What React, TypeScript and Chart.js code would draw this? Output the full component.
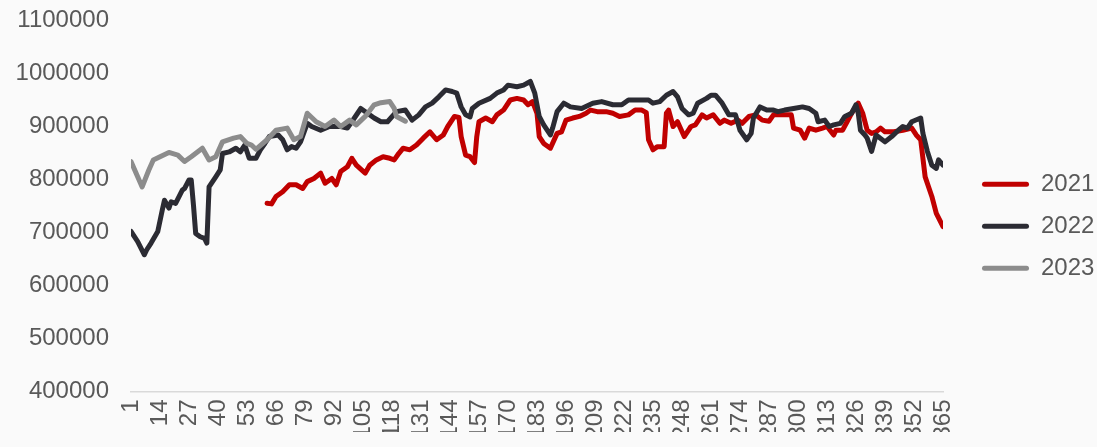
import React, { useEffect, useRef } from "react";
import { Chart, registerables } from "chart.js";

Chart.register(...registerables);

const seriesNames = ["2021", "2022", "2023"];
const seriesColors = ["#C00000", "#2B2B33", "#8C8C8C"];

const days2021 = [62,64,66,69,72,75,78,80,83,86,88,91,93,95,98,100,102,106,108,111,114,117,119,121,123,126,129,132,135,138,141,143,146,148,149,151,153,155,156,157,160,163,165,168,171,174,177,179,181,183,184,186,189,192,194,196,199,202,205,207,210,214,217,220,224,227,230,232,233,235,237,240,241,242,244,246,249,252,254,257,259,262,265,267,270,273,275,278,281,284,287,289,293,297,298,301,303,305,308,311,313,316,317,320,322,324,327,329,331,333,335,337,339,343,347,351,353,355,357,360,362,365];
const values2021 = [755000,754000,768000,777000,790000,790000,783000,796000,802000,812000,793000,802000,790000,815000,824000,840000,827000,812000,827000,837000,843000,840000,837000,849000,859000,856000,865000,878000,890000,875000,884000,900000,919000,917000,881000,846000,843000,832000,881000,909000,916000,909000,922000,931000,950000,953000,950000,941000,947000,925000,881000,868000,859000,887000,890000,912000,916000,919000,925000,931000,928000,928000,925000,919000,922000,931000,931000,926000,875000,856000,862000,862000,925000,931000,900000,909000,881000,900000,903000,922000,916000,922000,906000,912000,906000,912000,906000,919000,922000,912000,910000,922000,922000,922000,897000,893000,878000,897000,893000,897000,900000,884000,893000,893000,909000,925000,944000,925000,893000,887000,890000,897000,890000,890000,893000,897000,884000,875000,805000,768000,736000,711000];

const days2022 = [1,4,7,8,10,13,15,16,18,19,21,24,25,27,28,29,30,32,34,35,36,39,41,42,45,48,50,52,54,57,59,61,63,67,69,71,73,75,77,80,82,86,90,95,98,100,104,107,110,113,116,120,124,127,130,133,136,139,142,145,147,149,151,153,154,157,162,165,168,170,174,177,180,182,184,186,189,190,192,195,198,203,208,212,217,221,224,229,233,235,238,241,244,246,248,251,253,255,259,261,263,266,269,272,274,277,279,280,283,286,289,291,294,298,302,305,308,309,312,314,316,319,321,324,326,327,328,330,331,333,335,339,342,345,347,349,351,355,356,358,360,362,363,365];
const values2022 = [702000,683000,658000,667000,680000,702000,742000,761000,746000,758000,755000,780000,783000,799000,799000,752000,698000,692000,689000,680000,786000,805000,818000,849000,852000,859000,852000,865000,840000,840000,856000,868000,881000,884000,875000,856000,862000,859000,871000,906000,900000,893000,900000,900000,897000,909000,934000,925000,916000,909000,909000,928000,931000,912000,922000,937000,944000,956000,969000,966000,963000,937000,922000,918000,934000,944000,953000,963000,969000,978000,975000,978000,985000,963000,919000,903000,884000,897000,928000,944000,937000,934000,944000,947000,941000,941000,950000,950000,950000,944000,947000,959000,966000,956000,934000,922000,925000,944000,953000,959000,959000,944000,922000,922000,893000,875000,887000,916000,937000,931000,931000,928000,931000,934000,937000,934000,925000,909000,912000,900000,903000,906000,919000,925000,941000,925000,893000,884000,878000,853000,884000,871000,881000,893000,900000,897000,909000,916000,887000,853000,827000,821000,837000,827000];

const days2023 = [1,6,9,11,14,18,22,25,28,33,36,39,42,47,50,53,55,57,62,66,71,74,77,80,84,88,92,95,99,102,106,110,113,117,119,120,124];
const values2023 = [834000,786000,818000,837000,843000,851000,846000,834000,843000,859000,837000,843000,871000,878000,881000,868000,865000,857000,875000,893000,897000,875000,881000,925000,909000,900000,912000,900000,912000,903000,919000,941000,945000,947000,934000,919000,910000];

const xTickDays = [1,14,27,40,53,66,79,92,105,118,131,144,157,170,183,196,209,222,235,248,261,274,287,300,313,326,339,352,365];
const yTickValues = [400000,500000,600000,700000,800000,900000,1000000,1100000];

const FONT = "'Liberation Sans', Arial, Helvetica, sans-serif";
const TEXT = "#595959";

export default function App() {
  const ref = useRef<HTMLCanvasElement | null>(null);

  useEffect(() => {
    if (!ref.current) return;
    const pts = (d: number[], v: number[]) => d.map((x, i) => ({ x, y: v[i] }));
    const allDays = [days2021, days2022, days2023];
    const allValues = [values2021, values2022, values2023];
    const chart = new Chart(ref.current, {
      type: "line",
      data: {
        datasets: seriesNames.map((name, i) => ({
          label: name,
          data: pts(allDays[i], allValues[i]),
          borderColor: seriesColors[i],
          backgroundColor: seriesColors[i],
          borderWidth: 5,
          pointRadius: 0,
          tension: 0,
          borderJoinStyle: "round" as const,
          borderCapStyle: "round" as const,
          order: 3 - i,
        })),
      },
      options: {
        animation: false,
        responsive: false,
        devicePixelRatio: 1,
        layout: { padding: { top: 20.5, bottom: 15, left: 0, right: 0 } },
        scales: {
          x: {
            type: "linear",
            min: 1,
            max: 365,
            afterBuildTicks: (s: any) => {
              s.ticks = xTickDays.map((v) => ({ value: v }));
            },
            afterFit: (s: any) => {
              s.height = 40.5;
            },
            ticks: {
              autoSkip: false,
              minRotation: 90,
              maxRotation: 90,
              padding: 8,
              color: TEXT,
              font: { family: FONT, size: 24 },
              callback: (v: any) => String(v),
            },
            grid: { display: false, drawTicks: false },
            border: { display: true, color: "#D9D9D9", width: 1.5 },
          },
          y: {
            type: "linear",
            min: 400000,
            max: 1100000,
            afterBuildTicks: (s: any) => {
              s.ticks = yTickValues.map((v) => ({ value: v }));
            },
            afterFit: (s: any) => {
              s.width = 131;
            },
            ticks: {
              padding: 2,
              color: TEXT,
              font: { family: FONT, size: 24 },
              callback: (v: any) => String(v),
            },
            grid: { display: false, drawTicks: true, tickLength: 20 },
            border: { display: false },
          },
          yR: {
            type: "linear",
            position: "right",
            display: true,
            afterFit: (s: any) => {
              s.width = 21;
            },
            ticks: { display: false, padding: 0 },
            grid: { display: false, drawTicks: false },
            border: { display: false },
          },
        },
        plugins: {
          tooltip: { enabled: false },
          legend: {
            position: "right",
            align: "center",
            maxWidth: 133,
            labels: {
              boxWidth: 47,
              boxHeight: 5,
              padding: 18,
              color: TEXT,
              font: { family: FONT, size: 24 },
              useBorderRadius: true,
              borderRadius: 2.5,
              sort: (a: any, b: any) => a.datasetIndex - b.datasetIndex,
              generateLabels: (c: any) =>
                (Chart.defaults.plugins.legend.labels.generateLabels as any)(c).map((l: any) => ({
                  ...l,
                  lineWidth: 0,
                })),
            },
          },
        },
      } as any,
    });
    return () => chart.destroy();
  }, []);

  return (
    <div
      style={{
        position: "fixed",
        left: 0,
        top: 0,
        width: 1097,
        height: 447,
        background: "#FAFAFA",
        overflow: "hidden",
      }}
    >
      <canvas ref={ref} width={1097} height={447} style={{ display: "block", width: 1097, height: 447 }} />
    </div>
  );
}
